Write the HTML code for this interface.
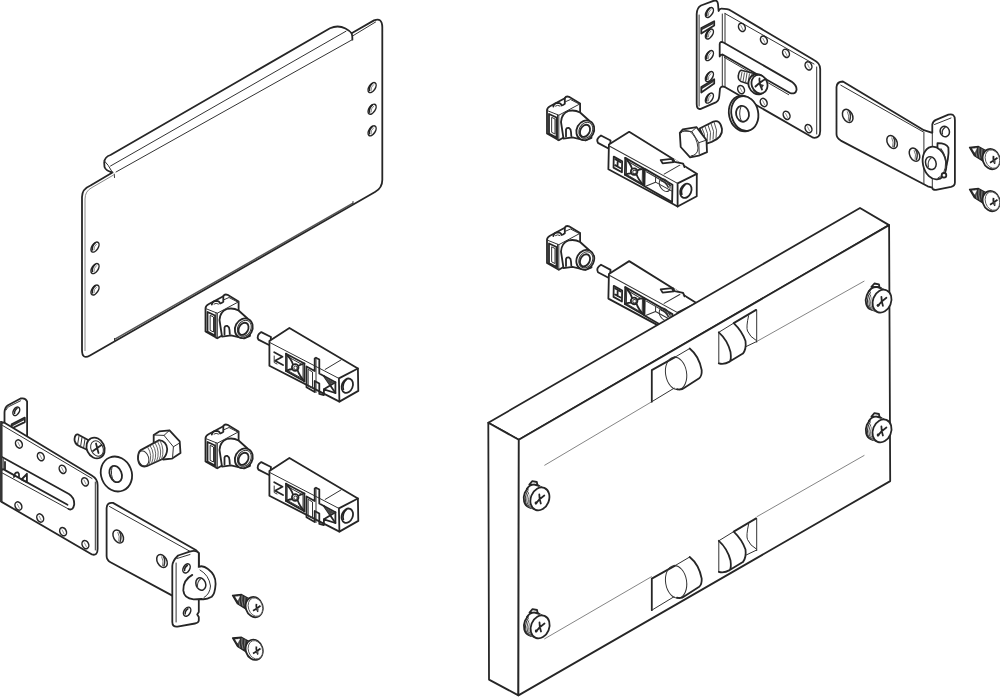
<!DOCTYPE html>
<html><head><meta charset="utf-8"><style>
html,body{margin:0;padding:0;background:#fff;width:1000px;height:697px;overflow:hidden}
svg{display:block}
.k{fill:none;stroke:#262626;stroke-width:1.8;stroke-linejoin:round;stroke-linecap:round}
.w{fill:#fff;stroke:#262626;stroke-width:1.8;stroke-linejoin:round;stroke-linecap:round}
.t{fill:none;stroke:#333;stroke-width:1;stroke-linecap:round;stroke-linejoin:round}
.th{fill:none;stroke:#777;stroke-width:0.9}
.h{fill:#fff;stroke:#262626;stroke-width:1.5}
</style></head><body>
<svg width="1000" height="697" viewBox="0 0 1000 697">
<defs>
 <g id="hole"><ellipse cx="0" cy="0" rx="3.1" ry="5.6" transform="rotate(33)" class="h"/><path d="M-2.6,3.6 Q-3.6,-1 0.6,-4.6" stroke="#222" stroke-width="1.6" fill="none"/><path d="M-1,3.2 Q-1.6,-0.6 1.8,-3.2" stroke="#555" stroke-width="0.7" fill="none"/></g>
 <g id="hole2"><ellipse cx="0" cy="0" rx="3.2" ry="4.3" transform="rotate(-25)" class="h"/><path d="M-1.2,-2.2 L1.2,2.6" stroke="#666" stroke-width="0.7"/></g>
 <g id="hole3"><ellipse cx="0" cy="0" rx="4.7" ry="7" transform="rotate(-28)" class="h" stroke-width="1.6"/><path d="M1.2,-5 Q4,-1 1.8,5.5" stroke="#333" stroke-width="1.5" fill="none"/><path d="M-0.5,-4.5 Q2,0 0.5,5" stroke="#555" stroke-width="0.8" fill="none"/></g>
 <g id="pscrew">
  <path class="w" stroke-width="1.6" d="M-7,-11.5 L-4,-14.8 L0.5,-14 L1.2,-10.5 Z"/>
  <ellipse cx="-3.1" cy="0.2" rx="9.1" ry="11.9" transform="rotate(22 -3.1 0.2)" class="w"/>
  <ellipse cx="-1.5" cy="0.9" rx="9.1" ry="11.9" transform="rotate(22 -1.5 0.9)" fill="#fff" stroke="#333" stroke-width="1"/>
  <ellipse cx="0.1" cy="1.6" rx="9.1" ry="11.9" transform="rotate(22 0.1 1.6)" fill="#fff" stroke="#444" stroke-width="0.9"/>
  <ellipse cx="1.7" cy="2.3" rx="9.1" ry="11.9" transform="rotate(22 1.7 2.3)" fill="#fff" stroke="#555" stroke-width="0.8"/>
  <path d="M-8,-9 L-3,-11.5 L5,-9 L8,0 L-6,6 Z" fill="#fff"/>
  <path class="k" stroke-width="1.5" d="M-9.5,-7 Q-6.5,-12 -1,-11.2 L2.5,-10"/>
  <ellipse cx="3.6" cy="2.9" rx="9.1" ry="11.8" transform="rotate(22 3.6 2.9)" class="w"/>
  <path class="k" stroke-width="1.9" d="M-0.5,7.5 Q3,3 8,-0.5 M3,-1.5 Q3,3 4.5,7.5"/>
  <circle cx="-0.3" cy="7" r="1.4" fill="#262626"/>
 </g>
 <g id="sscrew">
  <path class="w" d="M0,0 L16,5 L18,13 L10,13 Z"/>
  <path class="t" d="M6,2 L5,8 M9,3 L8,10 M12,4 L11,11 M15,5 L14,12"/>
  <ellipse cx="21" cy="12" rx="9.5" ry="11" transform="rotate(-20 21 12)" class="w"/>
  <ellipse cx="23" cy="12.5" rx="6" ry="8" transform="rotate(-20 23 12.5)" class="t"/>
  <path class="k" stroke-width="1.3" d="M20,12 L27,12 M23,9 L24,16"/>
 </g>
 <g id="clip">
  <path class="w" d="M205.5,331.4 L205.5,308.5 Q205.5,305.8 208.5,304.2 L223.3,296.2 Q224.5,293.8 227.5,294.8 L238.6,301.5 L238.6,326 L217.3,338.3 Z"/>
  <path class="t" d="M205.5,308.5 L217.3,313.2 L238.6,301.8 M217.3,313.2 L217.3,338.3 M216,313 L216,338"/>
  <path class="k" stroke-width="1.3" d="M207.5,312 L215,315.5 L215,335.5 L207.5,331.5 Z"/>
  <path class="t" d="M210.5,315.5 L213.5,317 L213.5,332 L210.5,330.5 Z"/>
  <path class="k" stroke-width="1.3" d="M211.8,304.5 Q212.5,300.8 216.5,300.8 Q219.5,301 220.2,303.5 L221.5,303 L223.3,301.8 L223.3,296.2"/>
  <path class="t" d="M223.3,300 L229,297.5 L238.6,302.5 M214,304 Q216,302.5 218.5,304"/>
  <path class="w" d="M219.5,320 Q220,311.5 227,309 Q233,307.5 238.6,310.5 L247.5,318.5 L250,336 L244,338.5 L231,335.3 L222,336.6 Z"/>
  <ellipse cx="243.8" cy="328.3" rx="8.6" ry="10.2" transform="rotate(28 243.8 328.3)" class="w"/>
  <ellipse cx="244.3" cy="328.3" rx="6.6" ry="8.4" transform="rotate(28 244.3 328.3)" class="t"/>
  <ellipse cx="243.5" cy="328.8" rx="4.6" ry="6.4" transform="rotate(28 243.5 328.8)" class="k" stroke-width="1.4"/>
  <path class="k" stroke-width="1.3" d="M224.5,334.5 L224.5,327.5 Q225,325.5 227.5,326 Q229.5,327 229.5,330 L229.8,334"/>
 </g>
 <g id="pin">
  <path class="w" d="M261.3,332.1 L271,337 L270,345.5 L258.4,339.6 Q256,335.5 261.3,332.1 Z"/>
 </g>
 <g id="blk">
  <path class="w" d="M269.4,341.1 L289.4,327.9 L357.9,368.5 L358.3,390.9 L339.4,401.6 L269.4,365.8 Z"/>
  <path class="k" stroke-width="1.5" d="M338.9,378.4 L357.9,368.5 M338.9,378.4 L339.4,401.6"/>
  <path class="t" stroke-width="1.2" d="M325.2,369.4 L341.1,359.9 M269.8,342.5 L338.9,378.4"/>
  <ellipse cx="347.3" cy="385.7" rx="5.4" ry="7.4" transform="rotate(22 347.3 385.7)" class="k" stroke-width="1.4"/>
  <path d="M343.5,390 Q341.5,384 346.5,379.5" stroke="#222" stroke-width="1.6" fill="none"/>
 </g>
 <g id="blkA">
  <path class="k" stroke-width="1.4" d="M286,353.7 L304.4,363.5 L304.4,381.3 L286,370.9 Z"/>
  <path class="t" d="M287.5,356.5 L303,365 L303,379 L287.5,370.5 Z"/>
  <path class="k" stroke-width="1.6" d="M286,353.7 Q292,360 293,365 M304.4,363.5 Q299,365 297.5,366.5 M286,370.9 Q290,369 293,369 M304.4,381.3 Q299,375 297.5,370"/>
  <circle cx="295.2" cy="367.5" r="3.3" class="w" stroke-width="1.4"/>
  <circle cx="295.6" cy="367.8" r="1.8" class="t"/>
  <path class="k" stroke-width="1.9" d="M274.2,352.3 L282.5,356.8 L275,360.8 L283,365"/>
  <path class="t" d="M274.2,356 L274.2,362.5 L277,364"/>
  <path class="k" stroke-width="1.4" d="M306.5,366.5 L314.7,371 L314.7,358.5 L316,357.7 L319.3,359.5 L319.3,373.5 L323.9,376 L335.4,382.3 L335.4,393 L323.9,389.3 L323.9,395 L319.3,393.9 L319.3,383.5 L314.7,381 L314.7,392 L306.5,387.3 Z"/>
  <path class="t" d="M308.5,369.5 L312.5,372 L312.5,388 L308.5,386 Z M316,358 L316,392.5"/>
  <path class="k" stroke-width="1.3" d="M323.9,376 L335.4,393 M335.4,382.3 L323.9,389.3"/>
  <path d="M324,377 L329.5,384.5 L335,382.5 Z" fill="#444"/>
 </g>
 <g id="blkB">
  <path class="k" stroke-width="1.6" d="M274.5,353 L283,357.5 L283,368.5 L274.5,364 Z"/>
  <path class="k" stroke-width="1.4" d="M276,355.5 L281.5,358.5 M276,361.5 L281.5,364.5 M278.5,357 L278.5,363"/>
  <path class="k" stroke-width="1.4" d="M286,354 L304.9,364.3 L304.9,381.2 L286,370.8 Z"/>
  <path class="t" d="M287.5,356.8 L303.5,365.8 L303.5,379.5 L287.5,370.5 Z"/>
  <path class="k" stroke-width="1.6" d="M286,354 Q292,360.3 293.2,365.3 M304.9,364.3 Q299.5,365.3 297.7,366.8 M286,370.8 Q290,369.3 293.2,369.3 M304.9,381.2 Q299.5,375.5 297.7,370.5"/>
  <circle cx="295.2" cy="367.6" r="3.3" class="w" stroke-width="1.4"/>
  <circle cx="295.6" cy="367.9" r="1.8" class="t"/>
  <path class="k" stroke-width="1.5" d="M305.8,364.6 L333.8,380 L333.8,397.3 L305.8,382 Z"/>
  <path class="t" d="M307.5,367.5 L332.2,381 M316.8,372.1 L316.8,377.7 L307,381.9 M316.8,377.7 L332.9,386.1"/>
  <ellipse cx="326" cy="380.5" rx="4.6" ry="7" transform="rotate(-35 326 380.5)" class="t" stroke-width="1.3"/>
  <path d="M322,376 Q327,377 330,383" stroke="#333" stroke-width="1.6" fill="none"/>
  <path class="w" stroke-width="1.3" d="M321.5,355.5 L332.5,354 L334.5,357.2 L323.5,358.7 Z"/>
  <path d="M334,353.5 L345,360 L347,363.5 L336,357 Z" fill="#fff"/>
  <path class="k" stroke-width="1.5" d="M334,354.3 L335.5,357 L344,358.5 L345.5,362"/>
 </g>



 <g id="tscrew">
  <path d="M0,0 L9,-0.8 L18.5,4.5 L14.5,14.5 L5,8.5 Z" fill="#2e2e2e" stroke="#222" stroke-width="1.3" stroke-linejoin="round"/>
  <path d="M6.5,0.2 Q5.5,4 7.5,9.5 M9.5,0.2 Q8.5,5 10.5,11 M12.5,1.5 Q11.5,6 13.2,12.5 M15.2,3 Q14.5,7 15.5,13" stroke="#999" stroke-width="0.8" fill="none"/>
  <path d="M2.5,1.2 L7.5,1 L5,5.5 Z" fill="#fff"/>
  <ellipse cx="21.7" cy="11.8" rx="8.4" ry="10.3" transform="rotate(-18 21.7 11.8)" class="w"/>
  <ellipse cx="22.9" cy="11.8" rx="7" ry="9.4" transform="rotate(-18 22.9 11.8)" fill="#fff" stroke="#555" stroke-width="0.9"/>
  <path d="M20.5,15.5 Q24,13.5 28,10.5 M24,8.5 Q23.2,13 25.5,16.5" stroke="#222" stroke-width="1.7" fill="none"/>
  <path d="M23.5,13 L26.5,13.5 L25,16 Z" fill="#555"/>
 </g>
</defs>
<rect width="1000" height="697" fill="#fff"/>

<!-- ============ TOP-LEFT PLATE ============ -->
<g>
 <path class="w" d="M382.3,28 L382.3,180 Q382.3,188 375,192 L90,355.5 Q82,360 82,350 L82,197 Q82,189 90.5,185.5 L112.5,172.5 Q106,171 104.5,167 L104.2,162.5 Q104.5,157 110.5,155 L330,28.2 Q338,24.6 345.5,28.5 Q350,31 351.6,33.2 L374,20.4 Q382,17 382.3,27 Z"/>
 <path class="k" d="M351.6,33.2 Q352.6,36 352.4,39.6"/>
 <path class="t" d="M353.2,35.6 L375.6,22"/>
 <path class="t" d="M110.5,166 L346,31.2 M116,172 L352.4,39.6 M104.5,161 Q108,164 112.5,172.5"/>
 <path d="M114.5,339.4 L353,203.2" stroke="#555" stroke-width="1.5" fill="none"/><path class="t" d="M114.5,338.5 L114.5,341.5 M353,201.5 L353,203.5"/>
 <path d="M113.5,175 L92,187.5 Q85,191 85,199 L85,351" stroke="#888" stroke-width="1" fill="none"/>
 <path class="t" d="M114.2,174.1 L114.5,177.5"/>
 <use href="#hole" x="372.1" y="87.6"/><use href="#hole" x="372.1" y="109.2"/><use href="#hole" x="372.1" y="130.8"/>
 <use href="#hole" x="95" y="247.1"/><use href="#hole" x="95" y="268.6"/><use href="#hole" x="95" y="290"/>
</g>

<!-- ============ CLIP BLOCKS ============ -->
<use href="#clip"/><use href="#pin"/><use href="#blk"/><use href="#blkA"/>
<g transform="translate(0,130)"><use href="#clip"/><use href="#pin"/><use href="#blk"/><use href="#blkA"/></g>
<g transform="translate(341.5,-198)"><use href="#clip"/></g>
<g transform="translate(339.5,-196.5) rotate(1.2 269.4 341.1)"><use href="#pin"/><use href="#blk"/><use href="#blkB"/></g>
<g transform="translate(341.5,-68.5)"><use href="#clip"/></g>
<g transform="translate(339.5,-67.2) rotate(1.2 269.4 341.1)"><use href="#pin"/><use href="#blk"/><use href="#blkB"/></g>

<!-- ============ BIG PANEL ============ -->
<g>
 <path class="w" d="M488.3,422.7 L860,208 L889.1,225.1 L518.8,439.8 Z"/>
 <path class="w" d="M488.3,422.7 L518.8,439.8 L518.4,695.4 L489,679.6 Z"/>
 <path class="w" d="M518.8,439.8 L889.1,225.1 L890.2,481.1 L518.4,695.4 Z"/>
 <path class="th" d="M544.4,465.4 L651.8,401.7 M756.7,341.5 L864.4,281"/>
 <path class="th" d="M544.3,639 L651.8,576.5 M756.7,516.8 L864.4,455.3"/>
 <g id="win">
  <path class="k" stroke-width="1.7" d="M651.8,401.7 L651.8,370.1 L675.1,357.1"/>
  <path class="t" d="M651.8,401.7 L674.1,388.2 M675.1,357.1 L689.7,348.5"/>
  <ellipse cx="676.1" cy="373.4" rx="10.5" ry="16.4" transform="rotate(-9 676.1 373.4)" class="t"/>
  <path class="k" stroke-width="1.7" d="M689.7,348.5 Q699,356 701.7,370.1 Q702,376 699.2,378.2 L685.2,387.2 Q681,390.5 677,389.2"/>
  <path class="t" d="M718.8,363.3 L718.8,332.3 L733.7,323.1 M756.1,309.9 L756.7,309.9 L756.7,342.1 M745.8,346.7 L756.7,341.5"/>
  <path class="k" stroke-width="1.7" d="M733.7,323.1 L756.1,309.9 M718.8,332.3 Q727.5,340 730.5,352 Q731.5,359.5 729.7,361.6 Q724,364.8 718.8,363.3 M733.7,323.1 Q742,331 745.5,341 Q746.5,349 742.9,353.6 L729.7,361.6"/>
  <path class="t" d="M748.6,315.7 Q746,327 747.5,331 Q750,337 756.1,340.4"/>
 </g>
 <use href="#win" transform="translate(0,208.5)"/>
 <use href="#pscrew" x="536.3" y="496"/>
 <use href="#pscrew" x="536.5" y="624"/>
 <use href="#pscrew" x="878.4" y="298.3"/>
 <use href="#pscrew" x="878.4" y="428"/>
</g>

<!-- ============ TOP-RIGHT BRACKET 1 ============ -->
<g>
 <path class="w" d="M696.7,104 L696.7,14 Q696.8,8 701,5.5 L713.5,0.8 Q717.6,-0.5 718,4 L718.6,11 Q719.5,8.5 721.5,8.6 L727,9.2 Q729,9.5 731,10.8 L813.5,59.8 Q820.2,63 820.2,69 L820.2,131 Q820.2,138.5 813.2,137.7 L724.4,86.8 Q721.2,85.8 720,88.5 L719.3,96 Q718.8,101 715.8,102.4 L700.8,108.8 Q696.7,110 696.7,104 Z"/>
 <path class="t" d="M699.1,15 L699.1,106 M722.3,14 L722.3,86 M725,13.5 L725,87.5 M725,13.5 L814,64 M816.7,67 L816.7,134"/>
 <path class="w" stroke-width="1.6" d="M701.3,33.5 L701.3,28 L714.2,21.2 L714.2,25.5 Z M701.3,92.5 L701.3,87 L714.2,79.2 L714.2,83.5 Z"/>
 <path d="M702,28 L713.5,22 L713.5,24 L702,30 Z M702,87 L713.5,80 L713.5,82 L702,89 Z" fill="#333"/>
 <use href="#hole" x="709.4" y="12.5"/><use href="#hole" x="709.4" y="34"/><use href="#hole" x="709.4" y="55.6"/><use href="#hole" x="709.4" y="76.6"/><use href="#hole" x="709.4" y="98.1"/>
 <use href="#hole2" x="741.9" y="27.4"/><use href="#hole2" x="763.9" y="40.2"/><use href="#hole2" x="786" y="53.3"/><use href="#hole2" x="808.5" y="65.9"/>
 <use href="#hole2" x="741.1" y="89.6"/><use href="#hole2" x="763.7" y="102.5"/><use href="#hole2" x="786.6" y="115.3"/><use href="#hole2" x="808.5" y="128.6"/>
 <path class="w" d="M719.7,56.5 L719.7,44 Q719.9,41 723.5,42.5 L791.5,81.6 Q797,85.5 796.5,90 Q795.5,95 789.6,92.8 L722.5,54.5 Q720.5,54.5 719.7,56.5 Z"/>
 <path class="t" d="M724.3,57.4 L788.7,94.7"/>
 <!-- pan-head screw -->
 <path d="M741.1,70.2 L756.2,74 L752,85 L741.1,81.5 Q737.5,79.5 738.4,75.5 Q739,71 741.1,70.2 Z" fill="#fff" stroke="#262626" stroke-width="1.6" stroke-linejoin="round"/>
 <path d="M742,72 L740.5,80.5 M744.5,72.5 L743,81.5 M747,73 L745.5,82.5 M749.5,73.5 L748,83.5 M752,74 L750.5,84" stroke="#555" stroke-width="1"/>
 <ellipse cx="757.6" cy="84.2" rx="9" ry="10.2" transform="rotate(-20 757.6 84.2)" class="w"/>
 <ellipse cx="759.5" cy="84.2" rx="7.8" ry="9.5" transform="rotate(-20 759.5 84.2)" class="w" stroke-width="1.3"/>
 <path class="k" stroke-width="1.6" d="M755.5,86.5 Q760,82 765.5,79 M759.5,78.5 Q759,84 762,89.5"/>
 <path d="M760.5,84 L764,85 L762,88 Z" fill="#333"/>
 <!-- washer -->
 <ellipse cx="743.2" cy="113.5" rx="14.2" ry="18" transform="rotate(-12 743.2 113.5)" class="w"/>
 <ellipse cx="744.8" cy="113.5" rx="13.4" ry="17.5" transform="rotate(-12 744.8 113.5)" class="w" stroke-width="1.4"/>
 <ellipse cx="742.5" cy="113.8" rx="6.4" ry="8" transform="rotate(-12 742.5 113.8)" class="k" stroke-width="1.7"/>
 <path class="t" d="M741,106.5 Q738,114 741.5,121.5"/>
 <!-- hex bolt -->
 <path class="w" d="M699.6,128.5 L713.4,121.6 Q720,119 722,129 Q723,137 711.7,141.9 L706.5,143.6 Z"/>
 <path d="M702,128 Q706,134 704,142 M705,126.5 Q709,133 707,141.5 M708,125 Q712,132 710,140.5 M711,123.5 Q715,131 713,139.5 M714,122 Q718,130 716,138.5" stroke="#555" stroke-width="1" fill="none"/>
 <path class="w" d="M679.8,132.8 L682.8,129.4 L696.6,127.2 L706.5,140.1 L707,152.2 L698.8,155.6 L690.1,157.4 L680.7,147 Z"/>
 <path class="t" d="M682,131 L691.9,131.5 L698.8,142.7 L699.2,154 M698.8,142.7 L706.5,140.1 M691.9,131.5 L696.6,127.2"/>
 <path class="t" d="M681,133 Q684,129 690,131.5 Q697,137 698,148 Q698,155 691,156"/>
</g>

<!-- ============ TOP-RIGHT BRACKET 2 ============ -->
<g>
 <path class="w" d="M842.9,81.5 L923.9,130.2 L932.3,132.8 L932.3,124.5 Q933,121 936,119.8 L948.4,114.7 Q954.9,113 954.9,120 L954.9,182.5 Q954.9,186 951,186.9 L936,189.8 Q932.3,190 932.3,187.7 L927.7,186.3 L840.8,140.6 Q836.5,138 836.5,134 L836.5,87 Q837,81.5 842.9,81.5 Z"/>
 <path class="t" d="M840.8,85.2 L924,132.3 M923.9,133 L923.9,183.8 M932.3,133 L932.3,188 M934.5,124.5 L951,118"/>
 <use href="#hole3" x="847.7" y="115.9"/><use href="#hole3" x="892.1" y="142"/><use href="#hole3" x="914.5" y="154.7"/>
 <ellipse cx="944.8" cy="131.5" rx="4.6" ry="5.3" transform="rotate(-20 944.8 131.5)" class="h"/>
 <path d="M942.5,134.5 Q941,130 945.5,127" stroke="#333" stroke-width="1.4" fill="none"/>
 <path class="w" d="M937.5,143.1 Q946,143 948.4,147.6 Q949,153 947.8,159.3 Q947,165 944.6,170.2 L937,170 Z" stroke-width="1.7"/>
 <ellipse cx="934.5" cy="163" rx="11.6" ry="16.6" transform="rotate(-12 934.5 163)" class="w"/>
 <path class="t" d="M941,148.5 Q947,156 945.2,168 Q943,176 938,178"/>
 <ellipse cx="930.8" cy="163.1" rx="5.2" ry="6.6" transform="rotate(-20 930.8 163.1)" class="h" stroke-width="1.7"/>
 <path d="M928.5,167 Q927,161 931.5,157.5" stroke="#444" stroke-width="1.1" fill="none"/>
 <circle cx="944" cy="175.3" r="2.3" class="w" stroke-width="1.3"/>
</g>

<!-- ============ BOTTOM-LEFT BRACKET 1 ============ -->
<g>
 <path class="w" d="M4.5,422 L4.5,412.4 Q4.8,407 8,405.2 L20.6,398.5 Q25.8,397.5 27.1,401.5 L27.1,438 L4.5,424 Z"/>
 <path class="t" d="M6,410 Q7,407.5 9,406.5 L20.5,400.8"/>
 <path class="w" stroke-width="1.5" d="M11.6,428.5 L11.6,424.4 L24.8,417.6 L24.8,422.1 Z"/>
 <path d="M12,424.5 L24.5,418 L24.5,420 L12,426.5 Z" fill="#333"/>
 <ellipse cx="16.3" cy="411.3" rx="2.9" ry="4.6" transform="rotate(30 16.3 411.3)" class="h"/>
 <path d="M14.6,414 Q14,410.5 17.5,408" stroke="#222" stroke-width="1.5" fill="none"/>
 <path class="w" d="M1.2,426 Q1.2,421.5 4.5,422.8 L91.8,475.6 Q97.6,479 97.6,485 L97.6,549 Q97.6,556 92,554.5 L1.2,501.6 Z"/>
 <path class="t" d="M2.6,425.5 L92,478.5 M95.3,482 L95.3,550"/>
 <path d="M1.1,456.5 L68.9,494 Q74.5,497.5 74.2,504.5 Q73,511 68.5,509 L1.1,472.3 Z" fill="#fff"/>
 <path class="k" d="M1.1,456.5 L68.9,494 Q74.5,497.5 74.2,504.5 Q73,511 68.5,509"/>
 <path class="k" stroke-width="1.6" d="M5,462 L5,470.1 L67.5,504.8 M1.5,470 Q3,468.5 5,470.1"/>
 <path class="t" d="M1.1,472.3 L68.5,509 M3.2,459 L3.2,468.5"/>
 <path class="k" stroke-width="1.4" d="M14,477 Q14.5,472 18,472.5 Q19.5,473.5 19,476.5 M26.9,473.7 L26.9,482.3 L21.5,479.5 L26.9,474"/>
 <path d="M1.3,421 L1.3,502" stroke="#333" stroke-width="2.4"/>
 <use href="#hole2" x="18.9" y="444"/><use href="#hole2" x="40.8" y="456.6"/><use href="#hole2" x="62.6" y="469.3"/><use href="#hole2" x="85" y="481.9"/>
 <use href="#hole2" x="18.4" y="506"/><use href="#hole2" x="40.2" y="518"/><use href="#hole2" x="63.1" y="531.7"/><use href="#hole2" x="85.4" y="544.6"/>
 <!-- screw -->
 <path class="w" d="M78,434.5 L90,441 L92,452 L80,446.5 Q74,443.5 74.5,439 Q75,434 78,434.5 Z"/>
 <path class="t" d="M79,436 L77.5,445 M82,437.5 L80.5,447 M85,439 L83.5,448.5 M88,440.5 L86.5,450"/>
 <ellipse cx="95.6" cy="448" rx="8.8" ry="10.7" transform="rotate(-25 95.6 448)" class="w"/>
 <ellipse cx="97" cy="448.5" rx="6" ry="8" transform="rotate(-25 97 448.5)" class="t"/>
 <path class="k" stroke-width="1.5" d="M93,451 L101.5,445 M96,443.5 L98.5,453"/>
 <!-- washer -->
 <ellipse cx="116.4" cy="474" rx="15.3" ry="17.8" transform="rotate(-22 116.4 474)" class="w"/>
 <ellipse cx="115.7" cy="474" rx="5.9" ry="8.5" transform="rotate(-22 115.7 474)" class="k" stroke-width="1.8"/>
 <path class="t" d="M112,467 Q110,475 114,482"/>
 <!-- bolt -->
 <path class="w" d="M153.7,435 L159.2,431.4 L169.5,430.3 L179.7,441.3 L180.5,453.1 L171.8,458.7 L163.1,459.5 L155,455 L153.7,443.7 Z"/>
 <path class="t" d="M153.7,435 L164,435.4 L169.5,430.3 M164,435.4 L173.4,446.8 L179.7,442.9 M173.4,446.8 L172.6,457.1"/>
 <path class="w" d="M140.3,450.4 L159.2,440.1 Q166.5,441 167.2,449 Q167,455 163.1,458.7 L146.6,466.2 Q139,468 138,459 Q138,452 140.3,450.4 Z"/>
 <path d="M147.5,447 Q153,455 149,464.5 M150,445.5 Q155.5,454 151.5,463.5 M152.5,444.2 Q158,453 154,462.5 M155,442.8 Q160.5,452 156.5,461.5 M157.5,441.5 Q163,451 159,460.5 M160,440.5 Q165,450 161.5,459.5" stroke="#555" stroke-width="0.9" fill="none"/>
 <ellipse cx="143.4" cy="458.5" rx="5.3" ry="7.7" transform="rotate(-15 143.4 458.5)" class="t" stroke-width="1.2"/>
</g>

<!-- ============ BOTTOM-LEFT BRACKET 2 ============ -->
<g>
 <path class="w" d="M113,502.9 L196.2,550.3 L198.8,553 L198.8,567 L172.3,595.6 L110.5,562.3 Q106.6,560 106.6,556 L106.6,508 Q107,502 113,502.9 Z"/>
 <path class="t" d="M109.5,506.5 L193,553"/>
 <path class="w" d="M172.3,566 Q172.3,561 178.1,555.5 L189.7,551.6 Q196,549.5 198.8,553 L198.8,612 L197.2,614.5 L198.8,617 L198.8,620.5 Q198.5,623 195,623.5 L177.5,626.6 Q172.3,627.2 172.3,622 Z"/>
 <path class="t" d="M176.1,563 L176.1,622 M177,558.5 L190,554.5"/>
 <use href="#hole3" x="118.2" y="536.5"/><use href="#hole3" x="162" y="561"/>
 <ellipse cx="186.5" cy="568.4" rx="3.2" ry="4.9" transform="rotate(30 186.5 568.4)" class="h"/>
 <path d="M184.6,571.2 Q184,567.5 187.8,565" stroke="#222" stroke-width="1.5" fill="none"/>
 <ellipse cx="187.1" cy="611.7" rx="3.2" ry="4.9" transform="rotate(30 187.1 611.7)" class="h"/>
 <path d="M185.2,614.5 Q184.6,610.8 188.4,608.3" stroke="#222" stroke-width="1.5" fill="none"/>
 <path d="M198.8,566.5 Q203,565 208,569 Q216,575 215.6,584 Q215,594 211.7,596.8 Q206,600 201.3,598.8 L193.6,599.4 Q184,598.5 183.3,590.4 Q183,580 192.3,574.9 Q196,571 198.8,566.5 Z" fill="#fff"/>
 <path class="k" stroke-width="1.7" d="M192.3,574.9 Q183,580 183.3,590.4 Q184,598.5 193.6,599.4 L201.3,599 Q206,600 211.7,596.8 Q215,594 215.6,584 Q216,575 208,569 Q203,565 198.8,566.8"/>
 <path class="t" d="M200,570 Q209,575 210.5,586 Q210,594 204,597.5"/>
 <ellipse cx="200.8" cy="584" rx="4.8" ry="6.4" transform="rotate(-20 200.8 584)" class="h" stroke-width="1.7"/>
 <path d="M197.6,588 Q196.5,582 201,578.5" stroke="#444" stroke-width="1.1" fill="none"/>
</g>

<!-- small self-tapping screws -->
<use href="#tscrew" x="232.5" y="595.3"/>
<use href="#tscrew" x="232.5" y="638"/>
<use href="#tscrew" x="969.5" y="147.3"/>
<use href="#tscrew" x="969.5" y="189.3"/>
</svg>
</body></html>
